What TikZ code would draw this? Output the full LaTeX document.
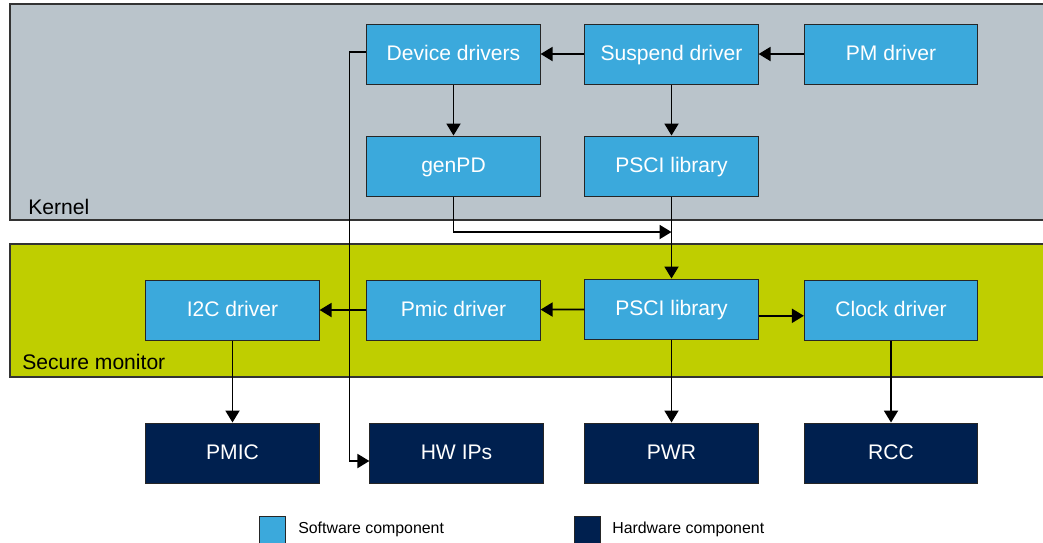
\documentclass[tikz,border=0pt]{standalone}
\usepackage{fontspec}
\setmainfont{Liberation Sans}
\usetikzlibrary{arrows.meta}
\definecolor{swblue}{HTML}{3BA9DC}
\definecolor{hwnavy}{HTML}{00204F}
\definecolor{kernelgray}{HTML}{BAC4CB}
\definecolor{securelime}{HTML}{BFCE00}
\tikzset{
  swbox/.style={draw=black!85, line width=0.7pt, fill=swblue, text=white,
    minimum width=4.33cm, minimum height=1.5cm, inner sep=0pt,
    text height=1.14em, text depth=0.2em,
    font=\fontsize{15}{18}\selectfont},
  hwbox/.style={swbox, fill=hwnavy},
  panel/.style={draw=black!80, line width=0.8pt},
  flow/.style={line width=1.2pt, -{Triangle[length=8.5pt,width=10pt]}},
  legendbox/.style={draw=black!85, line width=0.7pt},
  paneltitle/.style={anchor=base west, inner sep=0pt, font=\fontsize{15}{18}\selectfont},
  legendtext/.style={anchor=west, inner sep=0pt, font=\fontsize{11.3}{13}\selectfont},
}
\begin{document}
\begin{tikzpicture}[x=0.025cm,y=-0.025cm]
  \useasboundingbox (0,0) rectangle (1043,542);
  \clip (0,0) rectangle (1043,542);
  % Kernel
  \filldraw[panel, fill=kernelgray] (10,4) rectangle (1070,220);
  \node[paneltitle] (kernel) at (28,214) {Kernel};
  % Secure monitor
  \filldraw[panel, fill=securelime] (10,244) rectangle (1070,377);
  \node[paneltitle] (secure) at (22,369) {Secure monitor};
  % software boxes
  \node[swbox] (devdrv) at (453.5,54) {Device drivers};
  \node[swbox] (suspend) at (671.5,54) {Suspend driver};
  \node[swbox] (pmdrv) at (891,54) {PM driver};
  \node[swbox] (genpd) at (453.5,166) {genPD};
  \node[swbox] (psciK) at (671.5,166) {PSCI library};
  \node[swbox] (i2c) at (232.5,310) {I2C driver};
  \node[swbox] (pmicdrv) at (453.5,310) {Pmic driver};
  \node[swbox] (psciS) at (671.5,309) {PSCI library};
  \node[swbox] (clock) at (891,310) {Clock driver};
  % hardware boxes
  \node[hwbox] (pmic) at (232.5,453) {PMIC};
  \node[hwbox] (hwips) at (456.5,453) {HW IPs};
  \node[hwbox] (pwr) at (671.5,453) {PWR};
  \node[hwbox] (rcc) at (891,453) {RCC};
  % connectors
  \coordinate (join) at (671.5,232);
  \coordinate (bend) at (349.5,461);
  \draw[flow] (pmdrv) -- (suspend);
  \draw[flow] (suspend) -- (devdrv);
  \draw[flow] (devdrv) -- (genpd);
  \draw[flow] (suspend) -- (psciK);
  \draw[flow] (genpd.south) |- (join);
  \draw[flow] (psciK) -- (psciS);
  \draw[flow] (psciS) -- (pmicdrv);
  \draw[flow] (pmicdrv) -- (i2c);
  \draw[flow] ([yshift=-0.17cm]psciS.east) -- ([yshift=-0.17cm]psciS.east -| clock.west);
  \draw[flow] (i2c) -- (pmic);
  \draw[flow] (psciS) -- (pwr);
  \draw[flow] (clock) -- (rcc);
  \draw[flow] ([yshift=0.05cm]devdrv.west) -| (bend) -- (bend -| hwips.west);
  % legend
  \filldraw[legendbox, fill=swblue] (259,516) rectangle (285,546);
  \node[legendtext] (swlegend) at (298,529) {Software component};
  \filldraw[legendbox, fill=hwnavy] (574,516) rectangle (600,546);
  \node[legendtext] (hwlegend) at (612,529) {Hardware component};
\end{tikzpicture}
\end{document}
